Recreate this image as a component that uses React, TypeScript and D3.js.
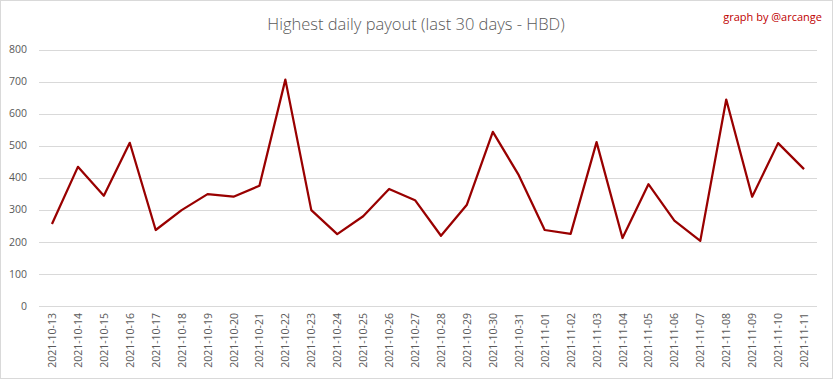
import React from "react";
import * as d3 from "d3";

const dates = [
  "2021-10-13","2021-10-14","2021-10-15","2021-10-16","2021-10-17","2021-10-18","2021-10-19","2021-10-20",
  "2021-10-21","2021-10-22","2021-10-23","2021-10-24","2021-10-25","2021-10-26","2021-10-27","2021-10-28",
  "2021-10-29","2021-10-30","2021-10-31","2021-11-01","2021-11-02","2021-11-03","2021-11-04","2021-11-05",
  "2021-11-06","2021-11-07","2021-11-08","2021-11-09","2021-11-10","2021-11-11",
];
const payouts = [
  256, 434, 344, 509, 237, 299, 349, 341, 375, 706, 299, 224, 280, 365, 330, 219,
  316, 543, 408, 237, 225, 511, 212, 380, 266, 203, 644, 341, 508, 427,
];
const yTicks = [0, 100, 200, 300, 400, 500, 600, 700, 800];

const W = 833, H = 379;
const left = 39, right = 817, top = 49.5, bottom = 306;

export default function App() {
  const x = d3.scaleBand<string>().domain(dates).range([left, right]);
  const y = d3.scaleLinear().domain([0, 800]).range([bottom, top]);
  const line = d3.line<number>()
    .x((_, i) => (x(dates[i]) as number) + x.bandwidth() / 2)
    .y((d) => y(d));
  const font = "'Open Sans', 'Noto Sans', sans-serif";
  return (
    <svg width={W} height={H} style={{ position: "absolute", left: 0, top: 0, background: "#fff" }}>
      <rect x={0.5} y={0.5} width={W - 1} height={H - 1} fill="#fff" stroke="#d9d9d9" />
      <text x={416} y={29.5} textAnchor="middle" fontFamily={font} fontWeight={300} fontSize={16.5} fill="#595959">
        Highest daily payout (last 30 days - HBD)
      </text>
      <text x={822} y={21} textAnchor="end" fontFamily={font} fontSize={11} fill="#c00000">
        graph by @arcange
      </text>
      {yTicks.map((t) => (
        <g key={t}>
          <line x1={left} x2={right} y1={Math.round(y(t)) + 0.5} y2={Math.round(y(t)) + 0.5} stroke="#d9d9d9" strokeWidth={1} />
          <text x={27} y={y(t)} dy="0.35em" textAnchor="end" fontFamily={font} fontSize={10.5} fill="#595959">
            {t}
          </text>
        </g>
      ))}
      {dates.map((d) => {
        const cx = (x(d) as number) + x.bandwidth() / 2;
        return (
          <text key={d} transform={`translate(${cx + 4},${313}) rotate(-90)`} textAnchor="end" fontFamily={font} fontSize={10.5} fill="#595959">
            {d}
          </text>
        );
      })}
      <path d={line(payouts) || ""} fill="none" stroke="#990000" strokeWidth={2.25} strokeLinejoin="round" />
    </svg>
  );
}
